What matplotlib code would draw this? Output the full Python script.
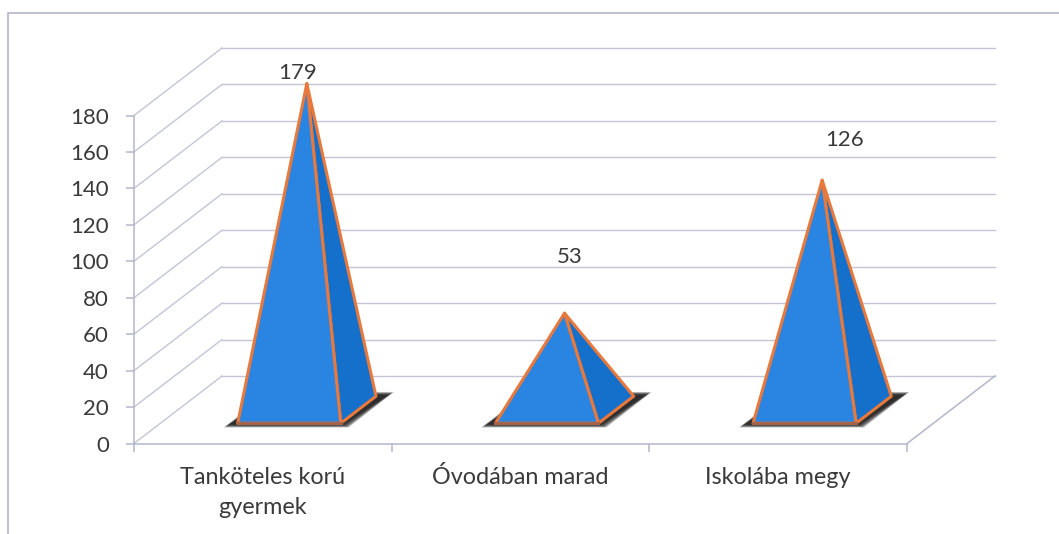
import matplotlib
matplotlib.use("Agg")
import matplotlib.pyplot as plt
from matplotlib.patches import Polygon
from matplotlib.lines import Line2D

categories = ["Tanköteles korú\ngyermek", "Óvodában marad", "Iskolába megy"]
values = [179, 53, 126]
y_ticks = list(range(0, 181, 20))

W, H = 1059, 534
plt.rcParams['font.family'] = ['Lato', 'DejaVu Sans']
fig = plt.figure(figsize=(W / 100, H / 100), dpi=100)
fig.patch.set_facecolor('white')

# front plane of the chart: pixels -> axes box
L, R, B, T = 134, 907, 443.5, 115.5
ax = fig.add_axes([L / W, 1 - B / H, (R - L) / W, (B - T) / H])
ax.set_xlim(0, 3)
ax.set_ylim(0, 180)
ax.patch.set_alpha(0)

GRID = '#c3c5d6'
AXC = '#b4b6ca'
TXT = '#3a3a3a'
PXX = 3 / (R - L)
PXY = 180 / (B - T)

for s in ('top', 'right'):
    ax.spines[s].set_visible(False)
for s in ('left', 'bottom'):
    ax.spines[s].set_color(AXC)
    ax.spines[s].set_linewidth(1.1)

ax.set_yticks(y_ticks)
ax.set_xticks(range(0, 4))
ax.set_xticklabels([])
ax.tick_params(axis='both', color=AXC, width=1.1, length=6, labelcolor=TXT)
ax.tick_params(axis='y', labelsize=16, pad=12, length=6)
for i, c in enumerate(categories):
    ax.annotate(c, (i + 0.5, 0), xytext=(0, -23), textcoords='offset pixels', ha='center', va='top',
                fontsize=16.8, color=TXT, linespacing=1.55, annotation_clip=False)

# depth of the 3-D box in data units
DX = 88 * PXX
DY = 67.5 * PXY


def P(x, v, depth=0.0):
    return (x + DX * depth, v + DY * depth)


# walls
for v in y_ticks:
    a, b = P(0, v), P(0, v, 1)
    ax.add_line(Line2D([a[0], b[0]], [a[1], b[1]], color=GRID, lw=1.0, clip_on=False, zorder=1))
    c = P(3, v, 1)
    ax.add_line(Line2D([b[0], c[0]], [b[1], c[1]], color=GRID, lw=1.0, clip_on=False, zorder=1))
a, b = P(3, 0), P(3, 0, 1)
ax.add_line(Line2D([a[0], b[0]], [a[1], b[1]], color=AXC, lw=1.1, clip_on=False, zorder=1))

# pyramids
HALF = 0.2
D0, D1 = 0.30, 0.70
for i, v in enumerate(values):
    cx = i + 0.5
    fl, fr = P(cx - HALF, 0, D0), P(cx + HALF, 0, D0)
    br = P(cx + HALF, 0, D1)
    apex = P(cx, v, 0.5)
    # soft shadow on the floor: stacked translucent parallelograms
    layers = 14
    for k in range(layers):
        g = 6.0 * (1 - k / (layers - 1))
        gx, gy = g * PXX, 0.55 * g * PXY
        q0 = (fl[0] - 8 * PXX - gx, fl[1] - 1 * PXY - gy)
        q1 = (fr[0] + 2 * PXX + gx, fr[1] - 1 * PXY - gy)
        q2 = (br[0] + 12 * PXX + gx, br[1] + 1 * PXY + gy)
        q3 = (q0[0] + br[0] - fr[0] + 10 * PXX, br[1] + 1 * PXY + gy)
        ax.add_patch(Polygon([q0, q1, q2, q3], closed=True, fc='#151515', ec='none', alpha=0.14,
                             clip_on=False, zorder=2))
    ax.add_patch(Polygon([br, fr, apex], closed=True, fc='#1570cc', ec='#e8793c', lw=2.2,
                         joinstyle='round', clip_on=False, zorder=3))
    ax.add_patch(Polygon([fl, fr, apex], closed=True, fc='#2a84e2', ec='#e8793c', lw=2.2,
                         joinstyle='round', clip_on=False, zorder=4))
    ax.add_line(Line2D([fl[0], fr[0]], [fl[1], fr[1]], color='#a5644a', lw=2.2, clip_on=False, zorder=5))

# value labels
label_offsets = [(-9, 11), (5, 56), (22, 40)]
for i, v in enumerate(values):
    ax.annotate(str(v), P(i + 0.5, v, 0.5), xytext=label_offsets[i], textcoords='offset pixels',
                ha='center', va='center', fontsize=16, color=TXT, annotation_clip=False)

# outer frame
fig.add_artist(Line2D([8 / W, 8 / W, 1], [0, 1 - 13 / H, 1 - 13 / H], color=AXC, lw=1.2))

fig.savefig('out.png', dpi=100)
